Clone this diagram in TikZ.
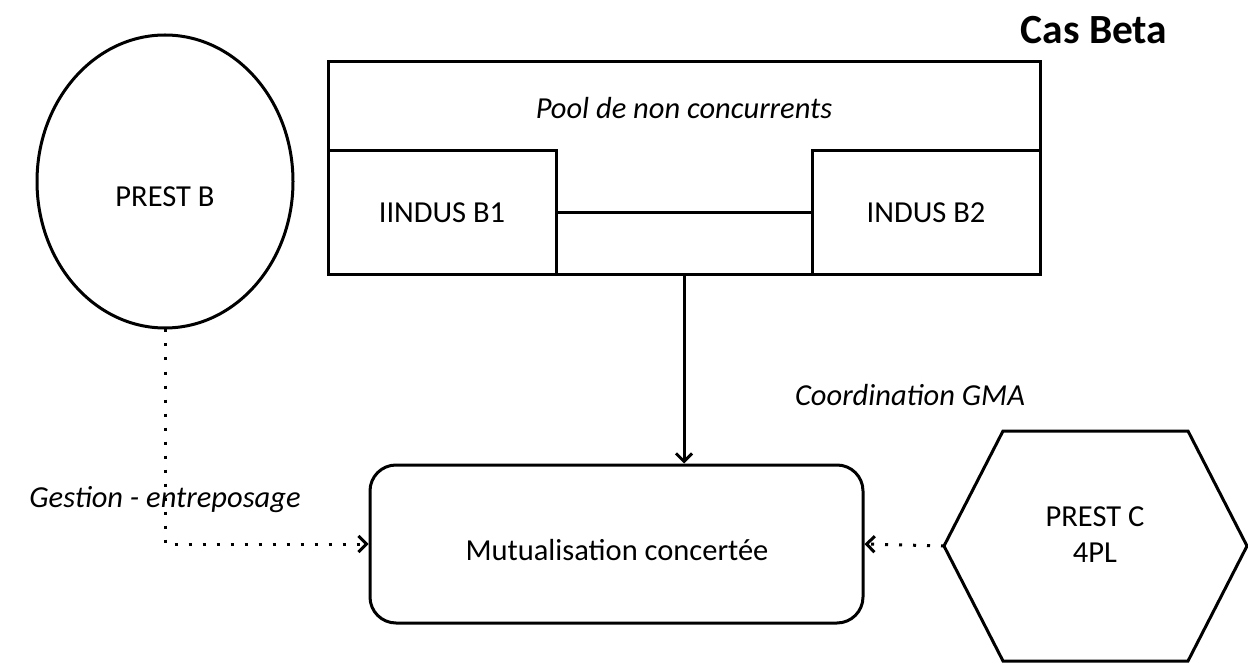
\documentclass[tikz,border=0pt]{standalone}
\usepackage{fontspec}
\setmainfont{Carlito}
\usetikzlibrary{shapes.geometric,arrows.meta}
\begin{document}
\begin{tikzpicture}[x=1pt,y=-1pt,
  every node/.style={font=\fontsize{30.5}{36}\selectfont, inner sep=0pt},
  box/.style={draw, line width=3pt, rectangle},
  lbl/.style={font=\fontsize{30.5}{36}\selectfont\itshape},
  conn/.style={line width=3pt},
  dots/.style={line width=3pt, dash pattern=on 3pt off 11pt},
  tip/.style={-{Straight Barb[length=8pt,width=16pt,line width=3pt]}}
]
\useasboundingbox (0,0) rectangle (1248,668);
\node[font=\fontsize{41.5}{48}\selectfont\bfseries] (title) at (1094,30) {Cas Beta};
\node[box, minimum width=712pt, minimum height=213pt] (pool) at (684,168.5) {};
\node[lbl] (pooltext) at (684,108) {Pool de non concurrents};
\node[box, minimum width=228pt, minimum height=124pt] (b1) at (442,213) {IINDUS B1};
\node[box, minimum width=228pt, minimum height=124pt] (b2) at (926,213) {INDUS B2};
\draw[conn] (b1.east) -- (b2.west);
\node[draw, ellipse, line width=3pt, minimum width=256pt, minimum height=293pt] (prestb) at (165,181.5) {};
\node (prestbtext) at (165,197) {PREST B};
\node[box, rounded corners=26pt, minimum width=493pt, minimum height=158pt] (mut) at (616.5,544) {};
\node (muttext) at (617,550) {Mutualisation concertée};
\node[align=center] (prestc) at (1095,535) {PREST C\\4PL};
\draw[line width=3pt, line join=miter] (944,546) coordinate (hexL) -- (1003,431) -- (1188,431) -- (1247,546) -- (1188,661) -- (1003,661) -- cycle;
\draw[conn, tip] (pool.south) -- (pool.south |- mut.north);
\coordinate (gcorner) at (prestb.south |- mut.west);
\draw[dots, tip] (prestb.south) -- (gcorner) -- (mut.west);
\draw[dots, tip] (hexL) -- (mut.east);
\node[lbl] (gest) at (165,500) {Gestion - entreposage};
\node[lbl] (coord) at (910,395) {Coordination GMA};
\end{tikzpicture}
\end{document}
